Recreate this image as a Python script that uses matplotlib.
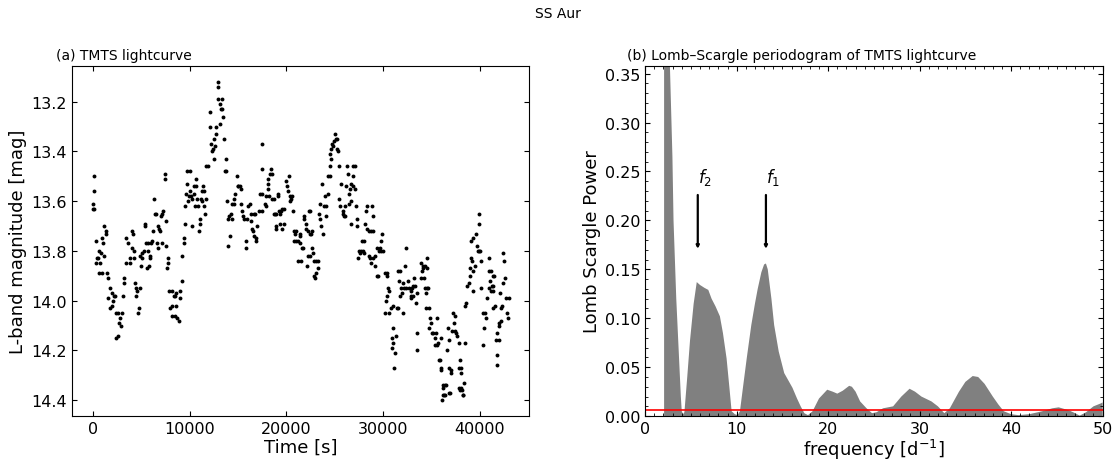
import numpy as np
import matplotlib
matplotlib.use("Agg")
import matplotlib.pyplot as plt
from matplotlib.ticker import MultipleLocator

# ---------------- data: TMTS lightcurve ----------------
time_s = [
    103, 172, 34, 103, 0, 1135, 1342, 1410, 378, 998, 1066, 654, 860, 585, 1204, 447, 310, 791, 654, 929,
    1479, 1548, 1754, 1617, 1961, 2167, 2305, 2098, 1961, 1823, 2374, 2580, 2993, 2855, 2718, 2924, 2580, 2442,
    3130, 3268, 3268, 3406, 3474, 3681, 3818, 3887, 4025, 4162, 4094, 4231, 4300, 4369, 4506, 4575, 4850, 4506,
    4782, 4713, 4919, 5057, 5126, 4988, 5263, 5401, 5401, 5538, 5745, 5676, 5882, 5951, 5814, 5607, 6020, 6158,
    6226, 6295, 6433, 6570, 6777, 6846, 6914, 6639, 6777, 7052, 7190, 7258, 7121, 7534, 7602, 7465, 7465, 7740,
    7809, 7671, 7878, 8153, 8359, 8497, 8634, 8978, 9047, 9185, 8153, 8015, 8634, 8153, 8497, 8703, 8910,
    9254, 9391, 9460, 9529, 9735, 10010, 9735, 9598, 9529, 9804, 9942, 10010, 10148, 10217, 10286, 10423,
    10492, 10561, 10630, 10698, 10767, 10905, 10974, 11042, 11111, 11180, 11249, 11318, 11386, 11455, 11524,
    11593, 11662, 11730, 11868, 12074, 12143, 12212, 12281, 12418, 12487, 12556, 12625, 12694, 12762, 12900,
    12969, 12900, 13106, 13313, 13244, 13382, 13450, 13175, 13588, 13726, 13657, 13794, 13863, 14001, 14001,
    14070, 14207, 14276, 14345, 14414, 14551, 14620, 14689, 14895, 14964, 15033, 15170, 15308, 15308, 15446,
    15514, 15652, 15858, 15858, 15927, 16065,
    16202, 16340, 16615, 16752, 16340, 16477, 16546, 16684, 16821, 16890, 16959, 17440, 17440, 17234, 17509,
    17165, 17509, 17784, 17853, 17922, 18128, 18128, 18060, 18266, 18404, 18472, 18197, 18472, 18679, 18679,
    18816, 18954, 19092, 19160, 18954, 18885, 19298, 19504, 19780, 19298, 19436, 19573, 19711, 19229, 19986,
    20055, 20261, 20192, 20330, 20468, 20399, 20605, 20674, 20743, 20880, 21018, 20812, 20949, 21156, 21362,
    21431, 21362, 21568, 21706, 21844, 21775, 21981, 22050, 22325, 22463, 22256, 22394, 22600, 22532, 21224,
    21500, 22119, 22188, 22463, 22669, 22738, 22876, 23082, 23288, 23220, 23082, 22944, 22876, 23495, 23357,
    23495, 23564, 23770, 23701, 23908, 24114, 24114, 23976, 24252, 24458, 24320, 24527, 24664, 24458, 24664,
    24802, 24733, 24940, 25146, 25077, 25284, 25215, 25352, 25421, 25490, 25559, 25696, 25834, 25972, 26109,
    25903, 26109, 26178, 26316, 26384, 26522, 26591, 26453, 26660, 26660, 26866, 27072, 26728, 26935, 27141,
    26866, 27210, 27279, 27348, 27554, 27416, 27623, 27760, 27898, 28036, 27829, 28036, 28173, 28311, 28242,
    28380, 28861, 28930, 28586, 28724, 28999, 28517, 28655, 28724, 28999, 29136, 29205, 29343, 29480, 29412,
    29549, 29687, 29824, 29962, 29756, 29893, 30168, 30374, 30374, 30306, 30443, 30581, 30512, 30168, 30650,
    30788, 31063, 31407, 31544, 31544, 31751, 32095, 30994, 30925, 31063, 30925, 31200, 31338, 31132, 31613,
    31888, 31957, 31751, 32026, 32370, 32232, 32164, 32370, 32576, 32714, 32852, 32989, 32852, 32920, 33127,
    33058, 33264, 33196, 33471, 33402, 33471, 33471,
    33952, 34090, 34021, 33884, 34228, 34159, 34365, 34572, 34503, 34296, 34434, 34503, 34640, 34434, 34709,
    34847, 34916, 34778, 35053, 35191, 35466, 35604, 35398, 35535, 35398, 35672, 35741, 35879, 35948, 36016,
    36016, 36567, 36773, 36980, 37048, 36223, 36360, 36498, 36292, 36842, 36704, 36773, 37117, 37324, 37392,
    37255, 37392, 37530, 37668, 37805, 37943, 37805, 38012, 38080, 37874, 38080, 38356, 38218, 38424, 38562,
    38493, 38700, 38837, 38975, 38975, 39112, 39181, 39319, 39456, 39044, 39250, 39594, 39663, 39800, 39938,
    40007, 39869, 39869, 39250, 40076, 40144, 40282, 40488, 40626, 40420, 40282, 40764, 40970, 41039, 41176,
    41314, 41245, 41383, 40901, 40970, 41108, 41314, 41452, 41383, 41589, 41727, 41658, 41933, 41727, 41796,
    42002, 42140, 42002, 42071, 42208, 42277, 42415, 42552, 42690, 42828, 42896, 42415, 42484, 42965,
    36089, 36200, 36400, 36913, 37945, 38150, 38290, 36150,
]

mag = [
    13.50, 13.56, 13.61, 13.63, 13.63, 13.70, 13.72, 13.73, 13.76, 13.75, 13.77, 13.80, 13.81, 13.83, 13.82, 13.83, 13.85, 13.85, 13.89, 13.89,
    13.89, 13.91, 13.95, 13.99, 13.97, 13.98, 13.98, 14.00, 14.02, 14.03, 14.05, 14.05, 14.05, 14.07, 14.09, 14.10, 14.14, 14.15,
    13.98, 13.91, 13.93, 13.85, 13.75, 13.77, 13.83, 13.85, 13.72, 13.73, 13.79, 13.80, 13.83, 13.93, 13.95, 13.96, 13.95, 13.98,
    14.03, 14.05, 13.82, 13.81, 13.83, 13.86, 13.80, 13.69, 13.70, 13.77, 13.77, 13.80, 13.82, 13.83, 13.86, 13.87, 13.77, 13.76,
    13.72, 13.59, 13.65, 13.65, 13.70, 13.71, 13.72, 13.77, 13.79, 13.66, 13.65, 13.64, 13.77, 13.68, 13.78, 13.49, 13.51, 13.83,
    13.85, 13.87, 13.96, 13.96, 13.98, 13.98, 13.97, 13.99, 13.96, 13.92, 14.02, 14.03, 14.02, 14.06, 14.06, 14.07, 14.08,
    13.82, 13.75, 13.77, 13.69, 13.48, 13.48, 13.53, 13.57, 13.62, 13.60, 13.58, 13.56, 13.58, 13.70, 13.59, 13.57,
    13.54, 13.62, 13.51, 13.54, 13.59, 13.62, 13.72, 13.69, 13.67, 13.59, 13.60, 13.56, 13.54, 13.56, 13.62,
    13.65, 13.59, 13.46, 13.46, 13.24, 13.30, 13.37, 13.40, 13.39, 13.35, 13.43, 13.38, 13.33, 13.30, 13.12,
    13.14, 13.19, 13.21, 13.19, 13.23, 13.23, 13.26, 13.29, 13.35, 13.43, 13.48, 13.48, 13.60, 13.67, 13.78,
    13.66, 13.74, 13.65, 13.61, 13.67, 13.61, 13.59, 13.57, 13.50, 13.54, 13.54, 13.54, 13.55, 13.61, 13.64,
    13.66, 13.67, 13.76, 13.79, 13.67, 13.62,
    13.61, 13.65, 13.65, 13.65, 13.68, 13.71, 13.72, 13.74, 13.75, 13.76, 13.70, 13.37, 13.47, 13.57, 13.57,
    13.64, 13.64, 13.61, 13.62, 13.58, 13.55, 13.53, 13.51, 13.49, 13.47, 13.49, 13.58, 13.59, 13.59, 13.65,
    13.65, 13.65, 13.57, 13.58, 13.70, 13.71, 13.69, 13.71, 13.69, 13.65, 13.64, 13.63, 13.63, 13.64, 13.52,
    13.54, 13.50, 13.56, 13.58, 13.59, 13.60, 13.58, 13.64, 13.72, 13.73, 13.72, 13.76, 13.76, 13.76, 13.73,
    13.74, 13.77, 13.79, 13.79, 13.66, 13.67, 13.69, 13.71, 13.64, 13.64, 13.72, 13.73, 13.72, 13.73, 13.84,
    13.84, 13.86, 13.82, 13.82, 13.79, 13.81, 13.84, 13.84, 13.84, 13.87, 13.89, 13.91, 13.90, 13.61, 13.65,
    13.67, 13.70, 13.73, 13.53, 13.62, 13.62, 13.66, 13.58, 13.57, 13.50, 13.50, 13.46, 13.43, 13.41, 13.39,
    13.38, 13.37, 13.36, 13.35, 13.33, 13.35, 13.39, 13.40, 13.46, 13.59, 13.62, 13.53, 13.65, 13.66, 13.66,
    13.64, 13.62, 13.54, 13.46, 13.49, 13.57, 13.55, 13.61, 13.60, 13.69, 13.46, 13.46, 13.53, 13.54, 13.55,
    13.50, 13.62, 13.67, 13.70, 13.80, 13.83, 13.81, 13.80, 13.80, 13.81, 13.76, 13.76, 13.69, 13.71, 13.64,
    13.62, 13.62, 13.66, 13.72, 13.72, 13.72, 13.82, 13.83, 13.85, 13.83, 13.82, 13.86, 13.90, 13.90, 13.79,
    13.80, 13.79, 13.80, 13.80, 13.76, 13.73, 13.89, 13.89, 13.90, 14.00, 13.98, 13.96, 13.95, 14.05, 14.05,
    14.03, 14.02, 14.03, 14.03, 13.88, 13.88, 14.05, 14.11, 14.15, 14.17, 14.19, 14.21, 14.14, 14.27, 13.92,
    13.95, 13.97, 13.98, 13.93, 13.79, 13.86, 13.95, 13.95, 13.92, 13.95, 13.96, 13.95, 13.98, 13.99, 13.98,
    13.94, 13.94, 13.91, 13.97, 14.01, 14.13, 14.20,
    13.85, 13.86, 13.88, 13.91, 13.91, 13.87, 13.86, 13.83, 13.87, 13.95, 13.97, 13.95, 13.95, 14.03, 14.03,
    14.07, 14.09, 14.11, 14.13, 14.13, 14.13, 14.07, 14.15, 14.18, 14.18, 14.17, 14.24, 14.24, 14.28, 14.27,
    14.15, 14.20, 14.27, 14.28, 14.29, 14.34, 14.34, 14.34, 14.38, 14.37, 14.11, 14.16, 14.12, 14.09, 14.12,
    14.05, 14.06, 14.13, 14.14, 14.17, 14.24, 14.27, 14.27, 14.29, 14.35, 14.35, 14.33, 14.38, 14.17, 14.01,
    14.02, 13.94, 13.93, 13.90, 13.87, 13.83, 13.84, 13.88, 13.86, 13.76, 13.75, 13.73, 13.78, 13.80, 13.80,
    13.80, 13.69, 13.65, 13.96, 13.84, 13.95, 14.05, 14.05, 14.07, 14.11, 14.18, 13.99, 13.95, 13.92, 13.96,
    13.96, 13.94, 13.94, 13.83, 13.88, 13.88, 13.90, 13.90, 14.03, 14.02, 14.13, 14.16, 14.16, 14.22, 14.26,
    14.09, 14.08, 14.10, 13.97, 14.03, 14.02, 13.93, 13.91, 13.99, 14.05, 14.07, 13.81, 13.84, 13.99,
    14.40, 14.38, 14.38, 14.37, 14.36, 14.36, 14.38, 14.35,
]

# ---------------- data: Lomb-Scargle periodogram ----------------
freq = [2.07, 2.3, 2.5, 2.7, 2.98, 3.1, 3.4, 3.7, 3.9, 4.0, 4.15, 4.29, 4.6, 4.9, 5.3, 5.64, 6.0, 6.5, 6.9,
        7.26, 7.7, 8.17, 8.5, 8.9, 9.2, 9.45, 9.8, 10.1, 10.36, 10.7, 11.1, 11.6, 12.0, 12.3, 12.7, 13.0,
        13.2, 13.4, 13.8, 14.1, 14.6, 15.2, 16.1, 16.6, 17.0, 17.4, 17.8, 18.3, 19.0, 19.6, 19.9, 20.5,
        21.0, 21.6, 22.3, 22.6, 23.0, 23.5, 24.2, 24.8, 25.3, 26.0, 27.1, 28.0, 28.9, 29.5, 30.2, 31.3,
        32.0, 32.7, 33.3, 34.3, 35.0, 35.8, 36.4, 37.1, 38.0, 38.6, 39.2, 40.0, 40.8, 42.0, 43.4, 44.5,
        45.2, 46.3, 47.0, 47.5, 48.2, 49.0, 49.8, 50.0]
power = [0.55, 0.60, 0.48, 0.36, 0.265, 0.20, 0.12, 0.06, 0.02, 0.005, 0.002, 0.004, 0.04, 0.077, 0.115,
         0.137, 0.134, 0.131, 0.129, 0.12, 0.112, 0.102, 0.085, 0.059, 0.03, 0.005, 0.002, 0.001, 0.005,
         0.03, 0.059, 0.093, 0.115, 0.13, 0.147, 0.155, 0.156, 0.150, 0.12, 0.093, 0.066, 0.044, 0.029,
         0.018, 0.01, 0.003, 0.001, 0.005, 0.018, 0.024, 0.027, 0.025, 0.023, 0.026, 0.031, 0.03, 0.025,
         0.015, 0.008, 0.003, 0.004, 0.008, 0.01, 0.02, 0.028, 0.025, 0.02, 0.015, 0.01, 0.003, 0.008,
         0.025, 0.035, 0.041, 0.04, 0.033, 0.02, 0.012, 0.005, 0.002, 0.001, 0.002, 0.005, 0.008, 0.009,
         0.006, 0.003, 0.0005, 0.004, 0.01, 0.013, 0.014]
threshold = 0.006
f1_freq, f2_freq = 13.2, 5.75

TICK_FS = 11.5
LABEL_FS = 13

fig, (ax1, ax2) = plt.subplots(1, 2, figsize=(11.16, 4.64), dpi=100)
fig.subplots_adjust(left=0.0645, right=0.988, top=0.856, bottom=0.101, wspace=0.253)

# ---- left panel ----
ax1.plot(time_s, mag, 'o', color='black', ms=2.8, mec='none')
ax1.invert_yaxis()
ax1.set_xlabel('Time [s]', fontsize=LABEL_FS, labelpad=1)
ax1.set_ylabel('L-band magnitude [mag]', fontsize=LABEL_FS, labelpad=3)
ax1.tick_params(direction='in', top=True, right=True, labelsize=TICK_FS)
ax1.set_xticks([0, 10000, 20000, 30000, 40000])
ax1.set_yticks([13.2, 13.4, 13.6, 13.8, 14.0, 14.2, 14.4])
ax1.text(-0.035, 1.012, '(a) TMTS lightcurve', transform=ax1.transAxes,
         fontsize=10, ha='left', va='bottom')

# ---- right panel ----
ax2.fill_between(freq, 0, power, color='#808080', lw=0)
ax2.axhline(threshold, color='red', lw=1.2)
ax2.set_xlim(0, 50)
ax2.set_ylim(0, 0.358)
ax2.set_yticks(np.arange(0, 0.351, 0.05))
ax2.xaxis.set_minor_locator(MultipleLocator(1))
ax2.yaxis.set_minor_locator(MultipleLocator(0.01))
ax2.tick_params(which='both', direction='in', top=True, right=True, labelsize=TICK_FS)
ax2.tick_params(which='minor', length=2)
ax2.set_xlabel('frequency [d$^{-1}$]', fontsize=LABEL_FS, labelpad=1)
ax2.set_ylabel('Lomb Scargle Power', fontsize=LABEL_FS, labelpad=3)
ax2.text(-0.04, 1.012, '(b) Lomb–Scargle periodogram of TMTS lightcurve', transform=ax2.transAxes,
         fontsize=10, ha='left', va='bottom')

for fx, lab in [(f2_freq, '$f_2$'), (f1_freq, '$f_1$')]:
    ax2.annotate('', xy=(fx, 0.171), xytext=(fx, 0.226),
                 arrowprops=dict(arrowstyle='-|>', color='black', lw=1.6, mutation_scale=4,
                                 shrinkA=0, shrinkB=0))
    ax2.text(fx, 0.234, lab, fontsize=12, ha='left', va='bottom')

fig.suptitle('SS Aur', fontsize=10, y=0.985)

fig.savefig('out.png', dpi=100)
